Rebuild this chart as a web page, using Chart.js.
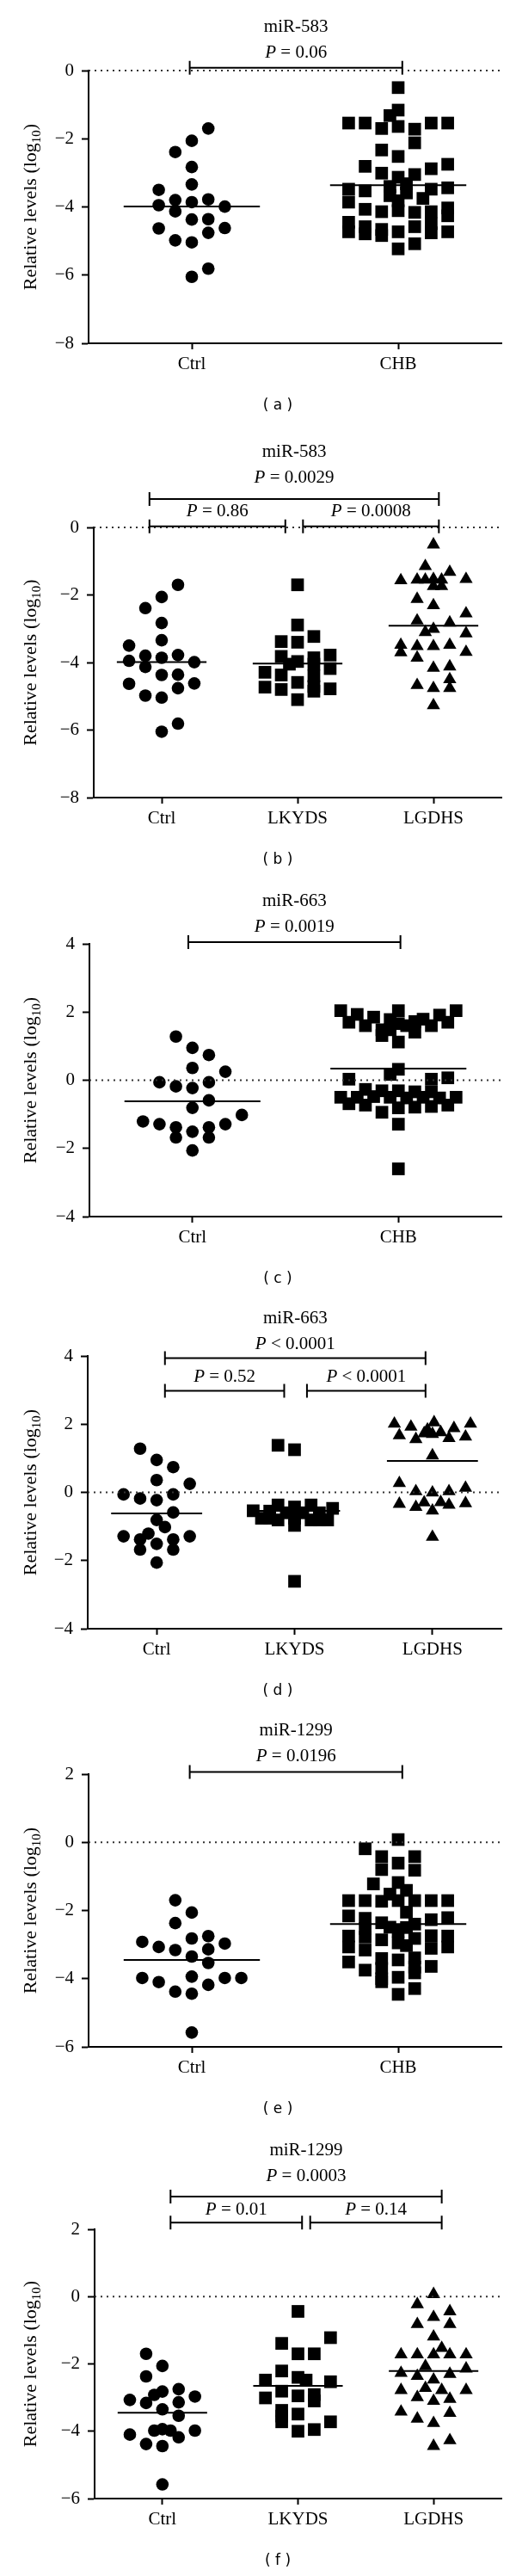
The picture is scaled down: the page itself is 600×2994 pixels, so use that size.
<!DOCTYPE html>
<html>
<head>
<meta charset="utf-8">
<script src="https://cdn.jsdelivr.net/npm/chart.js@4.4.1/dist/chart.umd.min.js"></script>
<style>
  html, body { margin: 0; padding: 0; background: #fff; }
  body { width: 600px; height: 2994px; position: relative; overflow: hidden; }
  canvas.panel { position: absolute; left: 0; }
</style>
</head>
<body>
<script>
// ---- categories and ticks ----
const cats2 = ['Ctrl', 'CHB'];
const cats3 = ['Ctrl', 'LKYDS', 'LGDHS'];
const yTicks583 = [0, -2, -4, -6, -8];
const yTicks663 = [4, 2, 0, -2, -4];
const yTicks1299 = [2, 0, -2, -4, -6];

// ---- miR-583 ----
const ctrl583 = [-1.70, -2.06, -2.39, -2.83, -3.34, -3.50, -3.80, -3.78, -3.86, -3.95, -3.99, -4.13, -4.37, -4.36, -4.63, -4.62, -4.76, -4.98, -5.04, -5.81, -6.05];
const ctrl583Col = [1, 0, -1, 0, 0, -2, -1, 1, 0, -2, 2, -1, 0, 1, -2, 2, 1, -1, 0, 1, 0];
const chb583 = [-0.50, -1.16, -1.32, -1.54, -1.54, -1.54, -1.54, -1.70, -1.64, -1.72, -2.12, -2.33, -2.52, -2.81, -2.75, -2.88, -3.01, -3.05, -3.13, -3.40, -3.32, -3.48, -3.53, -3.48, -3.44, -3.67, -3.59, -3.82, -3.75, -3.86, -4.07, -4.14, -4.11, -4.16, -4.14, -4.03, -4.26, -4.45, -4.73, -4.58, -4.79, -4.66, -4.84, -4.73, -4.58, -4.49, -4.76, -4.73, -5.08, -5.23];
const chb583Col = [0, 0, -0.5, -3, -2, 2, 3, -1, 0, 1, 1, -1, 0, -2, 3, 2, -1, 1, 0, -0.5, 0.5, -3, -2, 2, 3, -0.5, 0.5, 0, 1.5, -3, -2, -1, 0, 1, 2, 3, 3, -3, -3, -2, -2, -1, -1, 0, 1, 2, 2, 3, 1, 0];
const lkyds583 = [-1.70, -2.89, -3.23, -3.38, -3.40, -3.82, -3.86, -3.78, -3.97, -4.05, -4.05, -4.18, -4.29, -4.37, -4.40, -4.59, -4.73, -4.80, -4.71, -4.85, -4.78, -5.10];
const lkyds583Col = [0, 0, 1, -1, 0, -1, 1, 2, 0, -0.5, 1, 2, -2, -1, 1, 0, -2, -1, 1, 1, 2, 0];
const lgdhs583 = [-0.51, -1.15, -1.32, -1.57, -1.55, -1.55, -1.53, -1.55, -1.53, -1.74, -1.74, -2.12, -2.31, -2.55, -2.76, -2.82, -3.01, -3.10, -3.14, -3.48, -3.70, -3.52, -3.52, -3.48, -3.69, -3.86, -4.16, -4.12, -4.50, -4.67, -4.76, -4.76, -5.27];
const lgdhs583Col = [0, -0.5, 1, -2, -1, -0.5, 0, 0.5, 2, 0, 0.5, -1, 0, 2, -1, 1, 0, -0.5, 2, -2, -2, -1, 0, 1, 2, -1, 0, 1, 1, -1, 0, 1, 0];
const medA = [-3.99, -3.36];
const medB = [-3.99, -4.03, -2.91];
const pA = ['= 0.06'];
const pB = ['= 0.0029', '= 0.86', '= 0.0008'];

// ---- miR-663 ----
const ctrl663 = [1.28, 0.95, 0.74, 0.36, 0.25, -0.06, -0.06, -0.18, -0.23, -0.59, -0.81, -1.02, -1.21, -1.29, -1.29, -1.38, -1.38, -1.51, -1.68, -1.68, -2.06];
const ctrl663ColC = [-1, 0, 1, 0, 2, -2, 1, -1, 0, 1, 0, 3, -3, -2, 2, -1, 1, 0, -1, 1, 0];
const ctrl663ColD = [-1, 0, 1, 0, 2, -2, 1, -1, 0, 1, 0, 0.5, -0.5, -2, 2, -1, 1, 0, -1, 1, 0];
const chb663 = [2.04, 1.93, 1.85, 1.78, 2.04, 1.79, 1.91, 2.04, 1.70, 1.60, 1.48, 1.66, 1.60, 1.72, 1.60, 1.70, 1.31, 1.41, 1.12, 1.48, 0.32, 0.17, 0.03, 0.03, 0.07, -0.50, -0.50, -0.27, -0.48, -0.31, -0.50, -0.31, -0.52, -0.34, -0.50, -0.34, -0.52, -0.50, -0.69, -0.73, -0.94, -0.81, -0.79, -0.77, -0.73, -1.29, -2.60];
const chb663Col = [-3.5, -2.5, -1.5, -0.5, 0, 1.5, 2.5, 3.5, -3, -2, -1, 0, 0.5, 1, 2, 3, -1, 1, 0, -0.5, 0, -0.5, -3, 2, 3, -3.5, -2.5, -2, -1.5, -1, -0.5, 0, 0.5, 1, 1.5, 2, 2.5, 3.5, -3, -2, -1, 0, 1, 2, 3, 0, 0];
const lkyds663 = [1.38, 1.25, -0.54, -0.76, -0.55, -0.37, -0.81, -0.60, -0.43, -0.76, -0.60, -0.37, -0.81, -0.60, -0.81, -0.47, -0.97, -2.61, -0.76, -0.81];
const lkyds663Col = [-1, 0, -2.5, -2, -1.5, -1, -1, -0.5, 0, 0, 0.5, 1, 1, 1.5, 2, 2.3, 0, 0, -1.5, 1.5];
const lgdhs663 = [2.01, 1.92, 1.84, 2.05, 1.88, 2.01, 1.67, 1.56, 1.73, 1.71, 1.76, 1.59, 1.63, 1.08, 0.27, 0.03, -0.01, 0.03, 0.13, -0.34, -0.43, -0.30, -0.29, -0.37, -0.32, -0.54, -1.31];
const lgdhs663Col = [-2.3, -1.3, -0.3, 0.1, 1.3, 2.3, -2, -1, -0.5, 0, 0.5, 1, 2, 0, -2, -1, 0, 1, 2, -2, -1, -0.5, 0.5, 1, 2, 0, 0];
const medC = [-0.62, 0.34];
const medD = [-0.62, -0.54, 0.92];
const pC = ['= 0.0019'];
const pD = ['< 0.0001', '= 0.52', '< 0.0001'];

// ---- miR-1299 ----
const ctrl1299 = [-1.70, -2.06, -2.37, -2.75, -2.82, -2.92, -2.97, -3.07, -3.14, -3.16, -3.35, -3.54, -3.94, -3.98, -3.98, -3.98, -4.10, -4.18, -4.38, -4.44, -5.58];
const ctrl1299ColE = [-1, 0, -1, 1, 0, -3, 2, -2, 1, -1, 0, 1, 0, -3, 2, 3, -2, 1, -1, 0, 0];
const ctrl1299ColF = [-1, 0, -1, 1, 0, -0.5, 2, -2, 1, -1, 0, 1, 0, -0.5, 0.5, 2, -2, 1, -1, 0, 0];
const chb1299 = [0.08, -0.19, -0.42, -0.42, -0.61, -0.80, -0.82, -1.22, -1.18, -1.52, -1.41, -1.71, -1.71, -1.73, -1.71, -1.71, -1.71, -1.71, -2.05, -2.16, -2.23, -2.27, -2.21, -2.36, -2.40, -2.53, -2.49, -2.50, -2.60, -2.75, -2.78, -2.86, -2.82, -2.74, -2.75, -2.95, -3.03, -3.07, -3.16, -3.11, -3.07, -3.41, -3.45, -3.39, -3.51, -3.64, -3.75, -3.70, -3.66, -4.00, -3.96, -3.83, -4.09, -4.29, -4.46];
const chb1299Col = [0, -2, -1, 1, 0, -1, 1, -1.5, 0, -0.5, 0.5, -3, -2, -1, 0, 1, 2, 3, 0.5, -3, -2, 2, 3, -1, 1, -2, -0.5, 0.5, 0, -3, -2, -1, 1, 2, 3, 0, 0.5, -3, -2, 2, 3, -1, 0, 1, -3, 2, -2, -1, 1, -1, 0, 1, -1, 1, 0];
const lkyds1299 = [-0.44, -1.22, -1.39, -1.70, -1.70, -2.21, -2.40, -2.48, -2.48, -2.53, -2.81, -2.95, -2.91, -3.01, -3.10, -3.38, -3.49, -3.72, -3.72, -4.00, -3.95, -3.55];
const lkyds1299Col = [0, 2, -1, 0, 1, -1, 0, 0.5, -2, 2, -1, 0, 1, -2, 1, -1, 0, -1, 2, 0, 1, -1];
const lgdhs1299 = [0.07, -0.23, -0.44, -0.61, -0.82, -0.82, -1.19, -1.53, -1.72, -1.72, -1.72, -1.72, -1.72, -2.07, -2.14, -2.27, -2.36, -2.30, -2.47, -2.72, -2.78, -2.78, -2.78, -2.99, -3.04, -3.10, -3.42, -3.46, -3.63, -3.76, -4.27, -4.44];
const lgdhs1299Col = [0, -1, 1, 0, -1, 1, 0, 0.5, -2, -1, 0, 1, 2, -0.5, 2, -2, -1, 1, 0, -0.5, -2, 0.5, 2, -1, 1, 0, -2, 1, -1, 0, 1, 0];
const medE = [-3.45, -2.40];
const medF = [-3.45, -2.65, -2.21];
const pE = ['= 0.0196'];
const pF = ['= 0.0003', '= 0.01', '= 0.14'];

// ---- drawing ----
const SERIF = '"Liberation Serif", "Times New Roman", serif';
const PAD_TOP = 110, PAD_BOTTOM = 100, X_AXIS_H = 50, Y_AXIS_W = 60;
const POINT_R = { circle: 7.3, rect: 10.4, triangle: 8.9 };

function fmtTick(v) { return v < 0 ? '\u2212' + Math.abs(v) : String(v); }

function drawP(ctx, text, cx, cy) {
  const it = 'italic 21px ' + SERIF, nm = '21px ' + SERIF;
  ctx.font = it; const w1 = ctx.measureText('P').width;
  ctx.font = nm; const rest = ' ' + text; const w2 = ctx.measureText(rest).width;
  const x0 = cx - (w1 + w2) / 2;
  ctx.textAlign = 'left';
  ctx.font = it; ctx.fillText('P', x0, cy);
  ctx.font = nm; ctx.fillText(rest, x0 + w1, cy);
}

const annotPlugin = {
  id: 'annot',
  afterDraw(chart, args, opts) {
    const { ctx, chartArea: area } = chart;
    const xs = chart.scales.x, ys = chart.scales.y;
    ctx.save();
    ctx.fillStyle = '#000';
    ctx.strokeStyle = '#000';
    ctx.textBaseline = 'middle';
    let titleX = (area.left + area.right) / 2, titleY = area.top - 50;
    opts.brackets.forEach((b, i) => {
      const x1 = xs.getPixelForValue(b.from), x2 = xs.getPixelForValue(b.to);
      const yy = ys.getPixelForValue(b.y);
      ctx.lineWidth = 2;
      ctx.beginPath();
      ctx.moveTo(x1, yy); ctx.lineTo(x2, yy);
      ctx.moveTo(x1, yy - 8); ctx.lineTo(x1, yy + 8);
      ctx.moveTo(x2, yy - 8); ctx.lineTo(x2, yy + 8);
      ctx.stroke();
      const cx = (x1 + x2) / 2, ly = yy - b.gap;
      drawP(ctx, opts.pTexts[i], cx, ly);
      if (i === 0) { titleX = cx; titleY = ly - 30; }
    });
    ctx.font = '21px ' + SERIF;
    ctx.textAlign = 'center';
    ctx.fillText(opts.title, titleX, titleY);

    // y axis title with subscript
    ctx.save();
    ctx.translate(35, (area.top + area.bottom) / 2);
    ctx.rotate(-Math.PI / 2);
    ctx.textBaseline = 'alphabetic';
    ctx.textAlign = 'left';
    const main = 'Relative levels (log', sub = '10', end = ')';
    ctx.font = '22px ' + SERIF;
    const wm = ctx.measureText(main).width, we = ctx.measureText(end).width;
    ctx.font = '15px ' + SERIF;
    const wsub = ctx.measureText(sub).width;
    let sx = -(wm + wsub + we) / 2;
    ctx.font = '22px ' + SERIF; ctx.fillText(main, sx, 7); sx += wm;
    ctx.font = '15px ' + SERIF; ctx.fillText(sub, sx, 12); sx += wsub;
    ctx.font = '22px ' + SERIF; ctx.fillText(end, sx, 7);
    ctx.restore();

    // panel tag
    ctx.font = '17px "DejaVu Sans", sans-serif';
    ctx.textAlign = 'center';
    ctx.textBaseline = 'middle';
    ctx.fillText(opts.tag, 323, area.bottom + 73);
    ctx.restore();
  }
};

function makePanel(p) {
  const n = p.cats.length;
  const canvas = document.createElement('canvas');
  canvas.className = 'panel';
  canvas.width = 600;
  canvas.height = PAD_TOP + p.plotH + PAD_BOTTOM;
  canvas.style.top = (p.chartTop - PAD_TOP) + 'px';
  document.body.appendChild(canvas);

  const datasets = [{
    data: [{ x: -0.5, y: 0 }, { x: n - 0.5, y: 0 }],
    showLine: true, borderColor: '#333', borderWidth: 2, borderDash: [2, 5],
    pointRadius: 0, clip: false
  }];
  p.groups.forEach((g, i) => {
    datasets.push({
      data: g.vals.map((v, k) => ({ x: i + g.cols[k] * p.colStep, y: v })),
      pointStyle: g.shape, pointRadius: POINT_R[g.shape],
      backgroundColor: '#000', borderWidth: 0, showLine: false, clip: false
    });
  });
  p.medians.forEach((m, i) => {
    datasets.push({
      data: [{ x: i - 0.33, y: m }, { x: i + 0.33, y: m }],
      showLine: true, borderColor: '#000', borderWidth: 2, pointRadius: 0, clip: false
    });
  });

  const axisGrid = { display: true, drawOnChartArea: false, drawTicks: true, tickWidth: 2, tickColor: '#000' };
  new Chart(canvas, {
    type: 'scatter',
    data: { datasets },
    options: {
      responsive: false, animation: false, events: [], devicePixelRatio: 1,
      layout: { padding: { top: PAD_TOP, bottom: PAD_BOTTOM - X_AXIS_H, left: p.axisX - Y_AXIS_W, right: 17 } },
      plugins: {
        legend: { display: false }, tooltip: { enabled: false },
        annot: { brackets: p.brackets, pTexts: p.pTexts, title: p.title, tag: p.tag }
      },
      scales: {
        x: {
          type: 'linear', min: -0.5, max: n - 0.5,
          afterBuildTicks: s => { s.ticks = p.cats.map((c, i) => ({ value: i })); },
          afterFit: s => { s.height = X_AXIS_H; },
          ticks: { callback: v => p.cats[v], color: '#000', font: { family: SERIF, size: 21 }, padding: 5, maxRotation: 0, autoSkip: false },
          grid: { ...axisGrid, tickLength: 7 },
          border: { display: true, color: '#000', width: 2 }
        },
        y: {
          min: Math.min(...p.yTicks), max: Math.max(...p.yTicks),
          afterBuildTicks: s => { s.ticks = p.yTicks.map(v => ({ value: v })); },
          afterFit: s => { s.width = Y_AXIS_W; },
          ticks: { callback: v => fmtTick(v), color: '#000', font: { family: SERIF, size: 21 }, padding: 9, autoSkip: false },
          grid: { ...axisGrid, tickLength: 8 },
          border: { display: true, color: '#000', width: 2 }
        }
      }
    },
    plugins: [annotPlugin]
  });
}

const panels = [
  { tag: '( a )', title: 'miR-583', cats: cats2, yTicks: yTicks583, chartTop: 82, plotH: 317, axisX: 103, colStep: 0.08,
    groups: [{ vals: ctrl583, cols: ctrl583Col, shape: 'circle' }, { vals: chb583, cols: chb583Col, shape: 'rect' }],
    medians: medA, pTexts: pA,
    brackets: [{ from: -0.01, to: 1.02, y: 0.08, gap: 17 }] },
  { tag: '( b )', title: 'miR-583', cats: cats3, yTicks: yTicks583, chartTop: 613, plotH: 314, axisX: 109, colStep: 0.12,
    groups: [{ vals: ctrl583, cols: ctrl583Col, shape: 'circle' }, { vals: lkyds583, cols: lkyds583Col, shape: 'rect' }, { vals: lgdhs583, cols: lgdhs583Col, shape: 'triangle' }],
    medians: medB, pTexts: pB,
    brackets: [{ from: -0.09, to: 2.04, y: 0.84, gap: 25 }, { from: -0.09, to: 0.91, y: 0.03, gap: 17 }, { from: 1.04, to: 2.04, y: 0.03, gap: 17 }] },
  { tag: '( c )', title: 'miR-663', cats: cats2, yTicks: yTicks663, chartTop: 1097, plotH: 317, axisX: 104, colStep: 0.08,
    groups: [{ vals: ctrl663, cols: ctrl663ColC, shape: 'circle' }, { vals: chb663, cols: chb663Col, shape: 'rect' }],
    medians: medC, pTexts: pC,
    brackets: [{ from: -0.02, to: 1.01, y: 4.05, gap: 18 }] },
  { tag: '( d )', title: 'miR-663', cats: cats3, yTicks: yTicks663, chartTop: 1576, plotH: 317, axisX: 102, colStep: 0.12,
    groups: [{ vals: ctrl663, cols: ctrl663ColD, shape: 'circle' }, { vals: lkyds663, cols: lkyds663Col, shape: 'rect' }, { vals: lgdhs663, cols: lgdhs663Col, shape: 'triangle' }],
    medians: medD, pTexts: pD,
    brackets: [{ from: 0.06, to: 1.95, y: 3.94, gap: 16 }, { from: 0.06, to: 0.925, y: 2.98, gap: 16 }, { from: 1.09, to: 1.95, y: 2.98, gap: 16 }] },
  { tag: '( e )', title: 'miR-1299', cats: cats2, yTicks: yTicks1299, chartTop: 2062, plotH: 317, axisX: 103, colStep: 0.08,
    groups: [{ vals: ctrl1299, cols: ctrl1299ColE, shape: 'circle' }, { vals: chb1299, cols: chb1299Col, shape: 'rect' }],
    medians: medE, pTexts: pE,
    brackets: [{ from: -0.01, to: 1.02, y: 2.06, gap: 18 }] },
  { tag: '( f )', title: 'miR-1299', cats: cats3, yTicks: yTicks1299, chartTop: 2591, plotH: 313, axisX: 110, colStep: 0.12,
    groups: [{ vals: ctrl1299, cols: ctrl1299ColF, shape: 'circle' }, { vals: lkyds1299, cols: lkyds1299Col, shape: 'rect' }, { vals: lgdhs1299, cols: lgdhs1299Col, shape: 'triangle' }],
    medians: medF, pTexts: pF,
    brackets: [{ from: 0.06, to: 2.06, y: 2.97, gap: 24 }, { from: 0.06, to: 1.03, y: 2.2, gap: 15 }, { from: 1.09, to: 2.06, y: 2.2, gap: 15 }] }
];

panels.forEach(makePanel);
</script>
</body>
</html>
